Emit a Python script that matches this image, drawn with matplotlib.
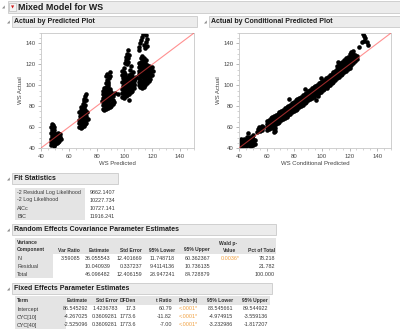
import matplotlib
matplotlib.use("Agg")
import matplotlib.pyplot as plt
from matplotlib.patches import Rectangle

plt.rcParams['font.family'] = ['Liberation Sans', 'DejaVu Sans']

# ---------------- data ----------------
# Actual by Predicted: (WS Predicted, WS Actual)
cluster1 = [(47.3,42.5),(47.5,45.5),(47.2,48.5),(47.6,51.5),(47.4,54.5),(47.7,57.5),(47.5,60.5),(48.1,62.8),
            (48.4,43.5),(48.6,46.8),(48.3,50),(48.7,53),(48.5,56),(48.8,59),(48.6,62),(49.3,42),(49.5,45),
            (49.2,48),(49.6,51),(49.4,54),(49.1,57.5),(49.7,60.5),(50.4,44),(50.6,47.5),(50.3,50.5),(50.8,53.5),
            (51.4,45.2),(51.7,48.5),(51.3,51.8),(51.9,54.5),(52.5,46),(52.8,49.3),(52.4,52.5),(53.3,47),
            (53.7,50.2),(53.9,53.2),(54.3,48.5)]
cluster2 = [(67.4,60),(67.6,63.5),(67.3,67),(67.7,70.5),(67.5,74),(68.5,59.5),(68.7,62.5),(68.4,66),(68.8,69),
            (68.6,72.5),(68.9,76),(68.5,79.5),(69.6,60.5),(69.8,64),(69.5,67.5),(69.9,71),(69.7,74.5),(69.5,78),
            (70.6,61.5),(70.8,65),(70.5,68.5),(70.9,72),(70.6,75.5),(70.8,79),(71.6,62.5),(71.8,66),(71.5,69.5),
            (71.9,73),(71.6,76.5),(72.6,64),(72.8,67.5),(72.4,71),(72.9,74.5),(73.5,68),(70.3,82),(71.2,84.5),
            (70.9,87),(71.6,89.5),(72.2,92),(72.4,86),(71.9,81)]
cluster3 = [(84.3,77.5),(84.5,81),(84.2,84.5),(84.6,88),(84.4,91.5),(84.7,95),(85.6,76.5),(85.8,80),(85.5,83.5),
            (85.9,87),(85.6,90.5),(85.8,94),(85.5,97.5),(86.8,77),(87.0,80.5),(86.6,84),(87.1,87.5),(86.8,91),
            (86.9,94.5),(86.7,98),(88.0,78),(88.2,81.5),(87.9,85),(88.3,88.5),(88.0,92),(88.2,95.5),(88.1,99),
            (89.3,79),(89.5,82.5),(89.2,86),(89.6,89.5),(89.3,93),(89.5,96.5),(90.6,80),(90.8,83.5),(90.5,87),
            (90.9,90.5),(90.6,94),(91.8,82),(91.9,86),(91.7,89.5),(92.3,84),(86.5,102),(87.2,105),(86.8,108.5),
            (87.6,111),(88.4,103),(88.8,106.5),(89.3,109),(89.8,113),(88.0,101.5),(93.5,92.5),(95.2,92)]
cluster4 = [(98.3,89),(98.5,92.5),(98.2,96),(98.6,99.5),(98.4,103),(98.7,106.5),(98.5,110),(98.3,113.5),
            (99.6,88),(99.8,91.5),(99.5,95),(99.9,98.5),(99.6,102),(99.8,105.5),(99.5,109),(99.7,112.5),
            (100.0,116.5),(100.8,89.5),(101.0,93),(100.7,96.5),(101.1,100),(100.8,103.5),(101.0,107),
            (100.7,110.5),(102.0,90.5),(102.2,94),(101.9,97.5),(102.3,101),(102.0,104.5),(102.2,108),
            (103.2,92),(103.4,95.5),(103.1,99),(103.5,102.5),(103.2,106),(103.4,109.5),(104.4,93.5),
            (104.6,97),(104.3,100.5),(104.7,104),(104.4,107.5),(104.6,111),(104.3,114.5),(104.8,118),
            (105.6,95),(105.8,98.5),(105.5,102),(105.9,105.5),(105.6,109),(105.8,112.5),(106.8,97),
            (106.9,101),(106.7,104.5),(107.2,100),(100.6,121),(101.3,124),(100.9,127.5),(101.8,130),
            (102.4,133.5),(102.9,126),(103.3,129),(102.2,122.5),(101.5,120),(103.0,85.5),(108.5,108),(107.8,106)]
cluster5 = [(110.3,100),(110.5,103.5),(110.2,107),(110.6,110.5),(110.4,114),(110.7,117.5),(110.5,121),
            (111.5,98),(111.7,101.5),(111.4,105),(111.8,108.5),(111.5,112),(111.7,115.5),(111.4,119),
            (111.6,122.5),(111.8,126),(112.7,97),(112.9,100.5),(112.6,104),(113.0,107.5),(112.7,111),
            (112.9,114.5),(112.6,118),(112.8,121.5),(113.0,125),(112.7,128),(113.9,98.5),(114.1,102),
            (113.8,105.5),(114.2,109),(113.9,112.5),(114.1,116),(113.8,119.5),(114.0,123),(114.2,126.5),
            (115.1,100),(115.3,103.5),(115.0,107),(115.4,110.5),(115.1,114),(115.3,117.5),(115.0,121),
            (115.2,124.5),(116.3,102),(116.5,105.5),(116.2,109),(116.6,112.5),(116.3,116),(116.5,119.5),
            (117.5,104),(117.7,107.5),(117.4,111),(117.8,114.5),(117.5,118),(118.7,106),(118.9,109.5),
            (118.6,113),(119.0,116.5),(119.8,110),(120.3,113.5),(119.9,117.5),(110.2,137),(111.0,140),
            (111.8,143.5),(112.5,146),(113.4,149.5),(114.3,151),(115.2,148),(116.0,144),(115.5,141),
            (113.8,139),(114.6,136),(116.2,138),(110.8,134)]

# Actual by Conditional Predicted: (WS Conditional Predicted, WS Actual)
cond_low = [(40.3,41),(40.6,44),(40.4,47),(41.5,42),(41.8,45.5),(41.6,48.5),(42.8,41.5),(43.0,44.5),(42.7,47.5),
            (44.0,43),(44.2,46),(43.9,49),(45.2,42),(45.4,45),(45.1,48),(45.5,51),(46.4,43),(46.6,46),(46.3,49),
            (46.8,54),(47.6,42),(47.8,45),(47.5,48),(47.9,51),(48.8,41.5),(49.0,44.5),(48.7,47.5),(49.1,50.5),
            (50.0,43),(50.2,46),(49.9,49),(50.4,52),(51.3,44),(51.5,47.5),
            (53.2,55),(53.8,58),(54.5,60.5),(55.3,56),(55.8,59),(56.5,61.5),(56.8,57.5),(57.4,60)]
cond_mid = [(60.2,57),(60.2,60),(60.2,63),(60.2,66),(61.5,58.5),(61.5,61.5),(61.5,64.5),(61.5,67),
            (62.8,59),(62.8,62),(62.8,65),(62.8,68.5),(64.1,60.5),(64.1,63.5),(64.1,66.5),(64.1,69.5),
            (65.0,55),(65.0,58),(66.2,56.5),(66.2,59.5),(65.4,61.5),(65.4,64.5),(65.4,67.5),(65.4,70.5),
            (66.7,62.5),(66.7,65.5),(66.7,68.5),(66.7,71.5),(68.0,64),(68.0,67),(68.0,70),(68.0,73),
            (69.3,65),(69.3,68),(69.3,71),(69.3,74),(70.6,66.5),(70.6,69.5),(70.6,72.5),(70.6,75.5),
            (71.9,67.5),(71.9,70.5),(71.9,73.5),(71.9,76.5),(73.2,69),(73.2,72),(73.2,75),(73.2,78),
            (74.5,70),(74.5,73),(74.5,76),(74.5,79),(75.8,71.5),(75.8,74.5),(75.8,77.5),(75.8,80.5),
            (77.1,72.5),(77.1,75.5),(77.1,78.5),(77.1,81.5),(78.4,74),(78.4,77),(78.4,80),(78.4,83),
            (79.7,75),(79.7,78),(79.7,81),(79.7,84),(81.0,76.5),(81.0,79.5),(81.0,82.5),(81.0,85.5),
            (82.3,77.5),(82.3,80.5),(82.3,83.5),(82.3,86.5),(83.6,79),(83.6,82),(83.6,85),(83.6,88),
            (84.9,80),(84.9,83),(84.9,86),(84.9,89),(86.2,81.5),(86.2,84.5),(86.2,87.5),(86.2,90.5),
            (87.5,83),(87.5,86),(87.5,89),(87.5,92),(88.8,84),(88.8,87),(88.8,90),(88.8,93),
            (90.1,85.5),(90.1,88.5),(90.1,91.5),(90.1,94.5),(91.4,86.5),(91.4,89.5),(91.4,92.5),(91.4,95.5),
            (92.7,88),(92.7,91),(92.7,94),(92.7,97),(94.0,89),(94.0,92),(94.0,95),(94.0,98),
            (95.3,90.5),(95.3,93.5),(95.3,96.5),(95.3,99.5),(95.5,86),(96.6,91.5),(96.6,94.5),(96.6,97.5),
            (96.6,100.5),(97.9,93),(97.9,96),(97.9,99),(97.9,102),(99.2,94),(99.2,97),(99.2,100),(99.2,103),
            (100.5,95.5),(100.5,98.5),(100.5,101.5),(100.5,104.5),(101.8,96.5),(101.8,99.5),(101.8,102.5),
            (101.8,105.5),(103.1,98),(103.1,101),(103.1,104),(103.1,107),(104.4,99),(104.4,102),(104.4,105),
            (104.4,108),(105.7,100.5),(105.7,103.5),(105.7,106.5),(105.7,109.5),(107.0,102),(107.0,105),
            (107.0,108),(107.0,111),(108.3,103.5),(108.3,106.5),(108.3,109.5),(108.3,112.5),
            (109.6,105),(109.6,108),(109.6,111),(109.6,114),
            (76.0,86.5),(88.0,96),(97.0,89.5),(104.0,97),(99.5,107)]
cond_high = [(110.9,106.5),(110.9,109.5),(110.9,112.5),(110.9,115.5),(110.9,118),
             (112.2,108),(112.2,111),(112.2,114),(112.2,117),(112.2,119.5),
             (113.5,109.5),(113.5,112.5),(113.5,115.5),(113.5,118.5),(113.5,121),
             (114.8,111),(114.8,114),(114.8,117),(114.8,120),(114.8,122.5),
             (116.1,112.5),(116.1,115.5),(116.1,118.5),(116.1,121.5),(116.1,124.5),
             (117.4,114),(117.4,117),(117.4,120),(117.4,123),(117.4,126),
             (118.7,115.5),(118.7,118.5),(118.7,121.5),(118.7,124.5),(118.7,127.5),
             (120.0,117),(120.0,120),(120.0,123),(120.0,126),(120.0,129.5),
             (121.3,119),(121.3,122),(121.3,125),(121.3,128),(121.3,131.5),
             (122.6,121),(122.6,124),(122.6,127),(122.6,130),(122.6,133),
             (123.9,123),(123.9,126),(123.9,129),(125.2,125),(125.2,128),(112.0,122.5),
             (126.5,137),(129.5,149),(130.8,147),(131.5,145),(130.2,142.5),(132.3,141),(133.0,139),(128.7,141.5)]

axis_ticks = [40, 60, 80, 100, 120, 140]

fit_labels = ["-2 Residual Log Likelihood", "-2 Log Likelihood", "AICc", "BIC"]
fit_values = ["9862.1407", "10227.734", "10727.141", "11916.241"]

re_columns = ["Var Ratio", "Estimate", "Std Error", "95% Lower", "95% Upper", "Wald p-Value", "Pct of Total"]
re_rows = ["N", "Residual", "Total"]
re_cells = [["3.59085", "36.055543", "12.401669", "11.748718", "60.362367", "0.0036*", "78.218"],
            ["", "10.040939", "0.337237", "9.4114136", "10.736135", "", "21.782"],
            ["", "46.096482", "12.406159", "28.947241", "84.728879", "", "100.000"]]

fe_columns = ["Term", "Estimate", "Std Error", "DFDen", "t Ratio", "Prob>|t|", "95% Lower", "95% Upper"]
fe_rows = ["Intercept", "CYC[10]", "CYC[40]"]
fe_cells = [["86.545292", "1.4236783", "17.3", "60.79", "<.0001*", "83.545661", "89.544922"],
            ["-4.267025", "0.3609281", "1773.6", "-11.82", "<.0001*", "-4.974915", "-3.559136"],
            ["-2.525096", "0.3609281", "1773.6", "-7.00", "<.0001*", "-3.232986", "-1.817207"]]

# ---------------- layout helpers ----------------
W, H = 400, 331
fig = plt.figure(figsize=(W / 100, H / 100), dpi=100)
fig.patch.set_facecolor('white')

def fx(x):
    return x / W

def fy(y):
    return 1 - y / H

def rect(x0, y0, x1, y1, fc, ec='none', lw=0.6):
    fig.patches.append(Rectangle((fx(x0), fy(y1)), (x1 - x0) / W, (y1 - y0) / H,
                                 transform=fig.transFigure, facecolor=fc, edgecolor=ec,
                                 linewidth=lw, zorder=0))

TS = 3.9
HS = 3.6

def txt(x, y, s, size=TS, ha='left', color='#3a3a3a', weight='normal', **kw):
    fig.text(fx(x), fy(y), s, fontsize=size, ha=ha, va='center', color=color,
             fontweight=weight, **kw)

def head(x, y, s, ha='right'):
    txt(x, y, s, size=HS, ha=ha, weight='bold', color='#303030')

def bar(x0, x1, y0, y1, title, size=5.0):
    rect(x0, y0, x1, y1, '#ececec', '#c9c9c9')
    txt(x0 - 5, (y0 + y1) / 2 + 1, "◢", size=2.6, color='#8a8a8a', family=['DejaVu Sans'])
    txt(x0 + 2, (y0 + y1) / 2, title, size=size, weight='bold', color='#1e1e1e')

# ---------------- headers ----------------
rect(8, 1, 400, 13, '#ececec', '#c9c9c9')
txt(2, 7.5, "◢", size=2.6, color='#8a8a8a', family=['DejaVu Sans'])
rect(9, 3.5, 16, 10.5, '#f4f4f4', '#b0b0b0', lw=0.4)
txt(12.5, 7.2, "▼", size=3.0, ha='center', color='#d01818', family=['DejaVu Sans'])
txt(18, 7, "Mixed Model for WS", size=6.4, weight='bold', color='#1e1e1e')

bar(12, 197, 16, 27, "Actual by Predicted Plot")
bar(209, 400, 16, 27, "Actual by Conditional Predicted Plot")

# ---------------- plots ----------------
def make_axes(x0, x1, xlabel, groups):
    ax = fig.add_axes([fx(x0), fy(148), (x1 - x0) / W, (148 - 33) / H])
    ax.set_xlim(40, 150)
    ax.set_ylim(40, 150)
    for g in groups:
        xs = [p[0] for p in g]
        ys = [p[1] for p in g]
        ax.plot(xs, ys, 'o', color='black', markersize=3.3, markeredgewidth=0, zorder=2)
    ax.plot([40, 150], [40, 150], color='#ff4646', alpha=0.6, linewidth=0.8, zorder=3)
    ax.set_xticks(axis_ticks)
    ax.set_yticks(axis_ticks)
    ax.set_xticks(range(40, 151, 5), minor=True)
    ax.set_yticks(range(40, 151, 5), minor=True)
    ax.tick_params(which='major', length=2.5, width=0.5, color='#9a9a9a', labelsize=4.3,
                   labelcolor='#444444', pad=1.5)
    ax.tick_params(which='minor', length=1.3, width=0.4, color='#b0b0b0')
    for s in ax.spines.values():
        s.set_color('#c8c8c8')
        s.set_linewidth(0.6)
    ax.set_xlabel(xlabel, fontsize=4.3, color='#444444', labelpad=1.5)
    ax.set_ylabel("WS Actual", fontsize=4.3, color='#444444', labelpad=1.5)
    return ax

make_axes(41, 194, "WS Predicted", [cluster1, cluster2, cluster3, cluster4, cluster5])
make_axes(239, 391, "WS Conditional Predicted", [cond_low, cond_mid, cond_high])

# ---------------- Fit Statistics ----------------
bar(12, 118, 173, 184, "Fit Statistics")
rect(15, 188, 85, 220, '#e4e4e4')
for i, (lab, val) in enumerate(zip(fit_labels, fit_values)):
    yy = 192 + 8 * i
    txt(17, yy, lab)
    txt(115, yy, val, ha='right')

# ---------------- Random Effects ----------------
bar(12, 276, 224, 235, "Random Effects Covariance Parameter Estimates")
rect(15, 238, 276, 254, '#e4e4e4')
rect(15, 254, 53, 278, '#e4e4e4')
head(17, 243, "Variance", ha='left')
head(17, 250, "Component", ha='left')
re_right = [80, 110, 142, 175, 210, 240, 275]
for c, xr in zip(re_columns, re_right):
    if c == "Wald p-Value":
        head(xr - 3, 243, "Wald p-")
        head(xr - 4, 250, "Value")
    else:
        head(xr, 250, c)
for i, (rn, cells) in enumerate(zip(re_rows, re_cells)):
    yy = 258 + 8 * i
    txt(17, yy, rn)
    for val, xr in zip(cells, re_right):
        col = '#f0a040' if val.endswith('*') else '#3a3a3a'
        txt(xr, yy, val, ha='right', color=col)

# ---------------- Fixed Effects ----------------
bar(12, 272, 283, 294, "Fixed Effects Parameter Estimates")
rect(15, 296, 270, 305, '#e4e4e4')
rect(15, 305, 66, 329, '#e4e4e4')
fe_right = [88, 118, 136, 172, 198, 233, 268]
head(17, 300.5, fe_columns[0], ha='left')
for c, xr in zip(fe_columns[1:], fe_right):
    head(xr, 300.5, c)
for i, (rn, cells) in enumerate(zip(fe_rows, fe_cells)):
    yy = 309 + 8 * i
    txt(17, yy, rn)
    for val, xr in zip(cells, fe_right):
        col = '#f0a040' if val.endswith('*') else '#3a3a3a'
        txt(xr, yy, val, ha='right', color=col)

fig.savefig("out.png", dpi=100)
